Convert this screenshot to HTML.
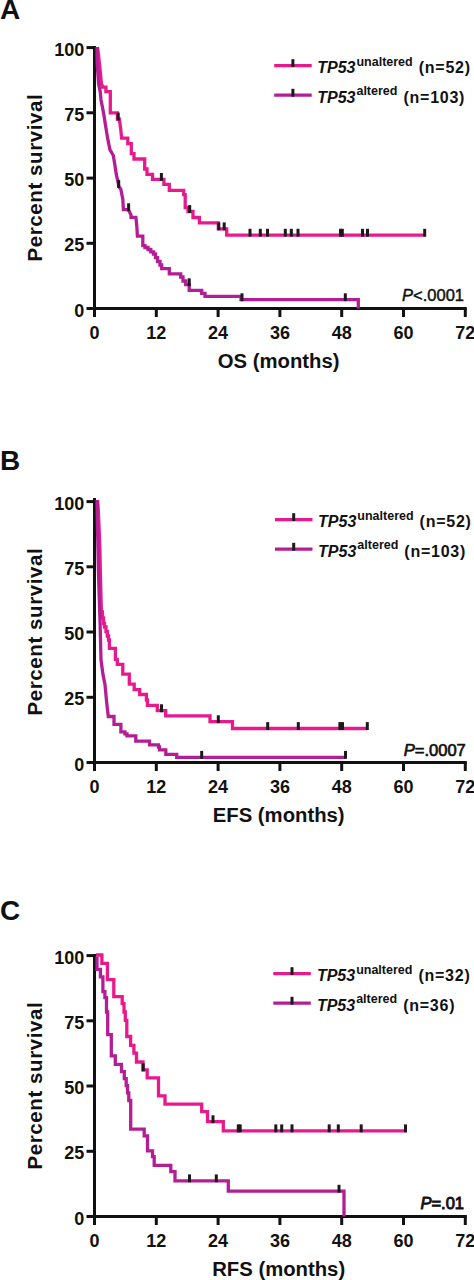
<!DOCTYPE html>
<html><head><meta charset="utf-8"><style>
html,body{margin:0;padding:0;background:#fff;}
svg{display:block;font-family:"Liberation Sans",sans-serif;}
</style></head><body>
<svg width="474" height="1280" viewBox="0 0 474 1280" fill="#111">
<text x="0" y="19.3" font-size="28" font-weight="bold">A</text><path d="M94.5,46.1 V308.5 H466.8" fill="none" stroke="#111" stroke-width="3" stroke-linecap="butt"/><line x1="86.5" y1="308.5" x2="94.5" y2="308.5" stroke="#111" stroke-width="3"/><text x="84.2" y="316.5" font-size="18" font-weight="bold" text-anchor="end">0</text><line x1="86.5" y1="243.3" x2="94.5" y2="243.3" stroke="#111" stroke-width="3"/><text x="84.2" y="251.3" font-size="18" font-weight="bold" text-anchor="end">25</text><line x1="86.5" y1="178.1" x2="94.5" y2="178.1" stroke="#111" stroke-width="3"/><text x="84.2" y="186.1" font-size="18" font-weight="bold" text-anchor="end">50</text><line x1="86.5" y1="112.8" x2="94.5" y2="112.8" stroke="#111" stroke-width="3"/><text x="84.2" y="120.8" font-size="18" font-weight="bold" text-anchor="end">75</text><line x1="86.5" y1="47.6" x2="94.5" y2="47.6" stroke="#111" stroke-width="3"/><text x="84.2" y="55.6" font-size="18" font-weight="bold" text-anchor="end">100</text><line x1="94.5" y1="308.5" x2="94.5" y2="317" stroke="#111" stroke-width="3"/><text x="94.5" y="338.5" font-size="18" font-weight="bold" text-anchor="middle">0</text><line x1="156.3" y1="308.5" x2="156.3" y2="317" stroke="#111" stroke-width="3"/><text x="156.3" y="338.5" font-size="18" font-weight="bold" text-anchor="middle">12</text><line x1="218.1" y1="308.5" x2="218.1" y2="317" stroke="#111" stroke-width="3"/><text x="218.1" y="338.5" font-size="18" font-weight="bold" text-anchor="middle">24</text><line x1="279.9" y1="308.5" x2="279.9" y2="317" stroke="#111" stroke-width="3"/><text x="279.9" y="338.5" font-size="18" font-weight="bold" text-anchor="middle">36</text><line x1="341.7" y1="308.5" x2="341.7" y2="317" stroke="#111" stroke-width="3"/><text x="341.7" y="338.5" font-size="18" font-weight="bold" text-anchor="middle">48</text><line x1="403.5" y1="308.5" x2="403.5" y2="317" stroke="#111" stroke-width="3"/><text x="403.5" y="338.5" font-size="18" font-weight="bold" text-anchor="middle">60</text><line x1="465.3" y1="308.5" x2="465.3" y2="317" stroke="#111" stroke-width="3"/><text x="465.3" y="338.5" font-size="18" font-weight="bold" text-anchor="middle">72</text><text x="278.7" y="367.5" font-size="20.3" font-weight="bold" text-anchor="middle">OS (months)</text><text transform="translate(42.3,177.6) rotate(-90)" font-size="20.5" letter-spacing="0.58" font-weight="bold" text-anchor="middle">Percent survival</text><text x="464" y="300.8" font-size="16.5" text-anchor="end" stroke="#111" stroke-width="0.45"><tspan font-style="italic">P</tspan>&lt;.0001</text><line x1="274.2" y1="65.6" x2="311.7" y2="65.6" stroke="#e8198c" stroke-width="3.3"/><line x1="274.2" y1="95.2" x2="311.7" y2="95.2" stroke="#b41e94" stroke-width="3.3"/><g fill="#1a1a1a"><rect x="291.4" y="59.2" width="3" height="7.9"/><rect x="291.4" y="88.8" width="3" height="7.9"/></g><text x="317.2" y="73.2" font-size="16" font-weight="bold"><tspan font-style="italic">TP53</tspan><tspan font-size="12.5" dy="-7.3" dx="1">unaltered</tspan><tspan dy="7.3" dx="6" letter-spacing="0.75">(n=52)</tspan></text><text x="317.2" y="102.6" font-size="16" font-weight="bold"><tspan font-style="italic">TP53</tspan><tspan font-size="12.5" dy="-7.3" dx="1">altered</tspan><tspan dy="7.3" dx="6" letter-spacing="0.75">(n=103)</tspan></text><text x="0" y="469.7" font-size="28" font-weight="bold">B</text><path d="M94.5,498.1 V762.5 H466.8" fill="none" stroke="#111" stroke-width="3" stroke-linecap="butt"/><line x1="86.5" y1="762.5" x2="94.5" y2="762.5" stroke="#111" stroke-width="3"/><text x="84.2" y="770.5" font-size="18" font-weight="bold" text-anchor="end">0</text><line x1="86.5" y1="697.3" x2="94.5" y2="697.3" stroke="#111" stroke-width="3"/><text x="84.2" y="705.3" font-size="18" font-weight="bold" text-anchor="end">25</text><line x1="86.5" y1="632" x2="94.5" y2="632" stroke="#111" stroke-width="3"/><text x="84.2" y="640" font-size="18" font-weight="bold" text-anchor="end">50</text><line x1="86.5" y1="566.8" x2="94.5" y2="566.8" stroke="#111" stroke-width="3"/><text x="84.2" y="574.8" font-size="18" font-weight="bold" text-anchor="end">75</text><line x1="86.5" y1="501.6" x2="94.5" y2="501.6" stroke="#111" stroke-width="3"/><text x="84.2" y="509.6" font-size="18" font-weight="bold" text-anchor="end">100</text><line x1="94.5" y1="762.5" x2="94.5" y2="771" stroke="#111" stroke-width="3"/><text x="94.5" y="792.5" font-size="18" font-weight="bold" text-anchor="middle">0</text><line x1="156.3" y1="762.5" x2="156.3" y2="771" stroke="#111" stroke-width="3"/><text x="156.3" y="792.5" font-size="18" font-weight="bold" text-anchor="middle">12</text><line x1="218.1" y1="762.5" x2="218.1" y2="771" stroke="#111" stroke-width="3"/><text x="218.1" y="792.5" font-size="18" font-weight="bold" text-anchor="middle">24</text><line x1="279.9" y1="762.5" x2="279.9" y2="771" stroke="#111" stroke-width="3"/><text x="279.9" y="792.5" font-size="18" font-weight="bold" text-anchor="middle">36</text><line x1="341.7" y1="762.5" x2="341.7" y2="771" stroke="#111" stroke-width="3"/><text x="341.7" y="792.5" font-size="18" font-weight="bold" text-anchor="middle">48</text><line x1="403.5" y1="762.5" x2="403.5" y2="771" stroke="#111" stroke-width="3"/><text x="403.5" y="792.5" font-size="18" font-weight="bold" text-anchor="middle">60</text><line x1="465.3" y1="762.5" x2="465.3" y2="771" stroke="#111" stroke-width="3"/><text x="465.3" y="792.5" font-size="18" font-weight="bold" text-anchor="middle">72</text><text x="278.7" y="821.5" font-size="20.3" font-weight="bold" text-anchor="middle">EFS (months)</text><text transform="translate(42.3,631.6) rotate(-90)" font-size="20.5" letter-spacing="0.58" font-weight="bold" text-anchor="middle">Percent survival</text><text x="465.8" y="756" font-size="16.5" text-anchor="end" stroke="#111" stroke-width="0.7"><tspan font-style="italic">P</tspan>=.0007</text><line x1="275" y1="519.6" x2="312.5" y2="519.6" stroke="#e8198c" stroke-width="3.3"/><line x1="275" y1="549.2" x2="312.5" y2="549.2" stroke="#b41e94" stroke-width="3.3"/><g fill="#1a1a1a"><rect x="292.2" y="513.2" width="3" height="7.9"/><rect x="292.2" y="542.8" width="3" height="7.9"/></g><text x="318.1" y="527.2" font-size="16" font-weight="bold"><tspan font-style="italic">TP53</tspan><tspan font-size="12.5" dy="-7.3" dx="1">unaltered</tspan><tspan dy="7.3" dx="6" letter-spacing="0.75">(n=52)</tspan></text><text x="318.1" y="556.6" font-size="16" font-weight="bold"><tspan font-style="italic">TP53</tspan><tspan font-size="12.5" dy="-7.3" dx="1">altered</tspan><tspan dy="7.3" dx="6" letter-spacing="0.75">(n=103)</tspan></text><text x="0" y="920" font-size="28" font-weight="bold">C</text><path d="M94.5,954.1 V1216.5 H466.8" fill="none" stroke="#111" stroke-width="3" stroke-linecap="butt"/><line x1="86.5" y1="1216.5" x2="94.5" y2="1216.5" stroke="#111" stroke-width="3"/><text x="84.2" y="1224.5" font-size="18" font-weight="bold" text-anchor="end">0</text><line x1="86.5" y1="1151.3" x2="94.5" y2="1151.3" stroke="#111" stroke-width="3"/><text x="84.2" y="1159.3" font-size="18" font-weight="bold" text-anchor="end">25</text><line x1="86.5" y1="1086" x2="94.5" y2="1086" stroke="#111" stroke-width="3"/><text x="84.2" y="1094" font-size="18" font-weight="bold" text-anchor="end">50</text><line x1="86.5" y1="1020.8" x2="94.5" y2="1020.8" stroke="#111" stroke-width="3"/><text x="84.2" y="1028.8" font-size="18" font-weight="bold" text-anchor="end">75</text><line x1="86.5" y1="955.6" x2="94.5" y2="955.6" stroke="#111" stroke-width="3"/><text x="84.2" y="963.6" font-size="18" font-weight="bold" text-anchor="end">100</text><line x1="94.5" y1="1216.5" x2="94.5" y2="1225" stroke="#111" stroke-width="3"/><text x="94.5" y="1246.5" font-size="18" font-weight="bold" text-anchor="middle">0</text><line x1="156.3" y1="1216.5" x2="156.3" y2="1225" stroke="#111" stroke-width="3"/><text x="156.3" y="1246.5" font-size="18" font-weight="bold" text-anchor="middle">12</text><line x1="218.1" y1="1216.5" x2="218.1" y2="1225" stroke="#111" stroke-width="3"/><text x="218.1" y="1246.5" font-size="18" font-weight="bold" text-anchor="middle">24</text><line x1="279.9" y1="1216.5" x2="279.9" y2="1225" stroke="#111" stroke-width="3"/><text x="279.9" y="1246.5" font-size="18" font-weight="bold" text-anchor="middle">36</text><line x1="341.7" y1="1216.5" x2="341.7" y2="1225" stroke="#111" stroke-width="3"/><text x="341.7" y="1246.5" font-size="18" font-weight="bold" text-anchor="middle">48</text><line x1="403.5" y1="1216.5" x2="403.5" y2="1225" stroke="#111" stroke-width="3"/><text x="403.5" y="1246.5" font-size="18" font-weight="bold" text-anchor="middle">60</text><line x1="465.3" y1="1216.5" x2="465.3" y2="1225" stroke="#111" stroke-width="3"/><text x="465.3" y="1246.5" font-size="18" font-weight="bold" text-anchor="middle">72</text><text x="278.7" y="1275.5" font-size="20.3" font-weight="bold" text-anchor="middle">RFS (months)</text><text transform="translate(42.3,1085.6) rotate(-90)" font-size="20.5" letter-spacing="0.58" font-weight="bold" text-anchor="middle">Percent survival</text><text x="464" y="1208.8" font-size="16.5" text-anchor="end" stroke="#111" stroke-width="0.9"><tspan font-style="italic">P</tspan>=.01</text><line x1="273.3" y1="973.6" x2="310.8" y2="973.6" stroke="#e8198c" stroke-width="3.3"/><line x1="273.3" y1="1003.2" x2="310.8" y2="1003.2" stroke="#b41e94" stroke-width="3.3"/><g fill="#1a1a1a"><rect x="290.5" y="967.2" width="3" height="7.9"/><rect x="290.5" y="996.8" width="3" height="7.9"/></g><text x="316.9" y="981.2" font-size="16" font-weight="bold"><tspan font-style="italic">TP53</tspan><tspan font-size="12.5" dy="-7.3" dx="1">unaltered</tspan><tspan dy="7.3" dx="6" letter-spacing="0.75">(n=32)</tspan></text><text x="316.9" y="1010.6" font-size="16" font-weight="bold"><tspan font-style="italic">TP53</tspan><tspan font-size="12.5" dy="-7.3" dx="1">altered</tspan><tspan dy="7.3" dx="6" letter-spacing="0.75">(n=36)</tspan></text><polyline points="97.5,47 98.5,55 99.5,64.3 100.5,74 101.4,84 102.4,86 102.4,87.1 105.9,87.1 105.9,91.6 110.3,91.6 110.3,112.9 117.4,112.9 117.4,119 119.3,119 120.8,129.7 121.6,138.2 127.8,138.2 127.8,143.7 131.3,143.7 131.3,153.6 134,153.6 134,159 144.7,159 144.7,169 147,169 147,174.4 152.5,174.4 152.5,179.4 163.9,179.4 163.9,184.3 169.3,184.3 169.3,190.3 183.7,190.3 183.7,194.7 185.2,194.7 185.2,207.5 188,207.5 188,211.5 193,211.5 193,217.5 199.4,217.5 199.4,222.8 218.3,222.8 218.3,228.8 226.7,228.8 226.7,235.2 425,235.2" fill="none" stroke="#e8198c" stroke-width="3.3" stroke-linejoin="miter" stroke-linecap="butt"/><polyline points="97,47 97,55 97.2,64.3 97.9,74 98.6,84 100.2,91.6 101,100 102.5,107.5 103.9,114.9 105.9,127.8 107.9,139.7 109.9,149.6 113.3,155.5 114.8,164.5 116.3,174.4 118.3,183.3 118.7,186.3 120.8,189.2 122.8,199.2 123.4,209.7 128.4,209.7 131,214.9 131,217.4 135.9,217.4 136.8,226 137.4,236.2 142.8,236.2 142.8,245.7 145,245.7 145,247.5 148,247.5 148,249.5 150.8,249.5 150.8,251.8 153.5,251.8 153.5,254 155.5,254 155.5,257.6 157.5,257.6 157.5,261.5 160,261.5 160,265 161.7,265 161.7,268.7 169.3,268.7 169.3,273.8 180.7,273.8 180.7,277 183,277 183,281 185.7,281 185.7,284.7 189.2,284.7 189.2,290.3 201.7,290.3 201.7,293.3 205,293.3 205,296.3 241,296.3 241,299.7 358.3,299.7 358.3,308.5" fill="none" stroke="#b41e94" stroke-width="3.3" stroke-linejoin="miter" stroke-linecap="butt"/><polyline points="97.6,500 98.3,510 99.2,530 99.9,550 100.3,570 100.8,590 101.3,610 101.3,612 102.4,612 102.4,618 103.5,618 103.5,623.5 104.5,623.5 104.5,627 106,627 106,631.5 107.3,631.5 107.3,636 108.5,636 108.5,640 109.4,640 109.4,648.4 115.4,648.4 115.4,659.3 117.3,659.3 117.3,664.3 122.8,664.3 122.8,674.2 129.3,674.2 129.3,684.1 134.2,684.1 134.2,689.6 139.7,689.6 139.7,694.5 146.4,694.5 146.4,699.8 147.4,699.8 147.4,705.3 157.3,705.3 157.3,710.7 165.7,710.7 165.7,715.8 210,715.8 210,721.7 232.5,721.7 232.5,728.5 367.5,728.5" fill="none" stroke="#e8198c" stroke-width="3.3" stroke-linejoin="miter" stroke-linecap="butt"/><polyline points="97,500 97.3,520 97.8,540 98.4,570 99,590 100,620 101,660 103,674.7 105,684.6 106.4,699.5 107.5,710 108.3,716.5 114,716.5 114,724.4 120.9,724.4 120.9,731.8 124.9,731.8 124.9,733.8 127,733.8 127,735.8 135.8,735.8 135.8,741.2 149.5,741.2 149.5,744.9 158.4,744.9 158.4,747 159.5,747 159.5,749.8 165.8,749.8 165.8,754.3 176.7,754.3 176.7,757.3 345.5,757.3" fill="none" stroke="#b41e94" stroke-width="3.3" stroke-linejoin="miter" stroke-linecap="butt"/><polyline points="97,956.5 97,969.3 100.4,969.3 100.4,976.8 102.9,976.8 102.9,991.6 104.9,991.6 104.9,997.6 106.5,997.6 106.5,1012 107.7,1012 107.7,1034.6 111.3,1034.6 111.3,1055.9 115.3,1055.9 115.3,1064.4 121.5,1064.4 121.5,1071.7 124.3,1071.7 124.3,1078.7 126.2,1078.7 126.2,1085.6 127.5,1085.6 127.5,1092.9 128.8,1092.9 128.8,1100.5 130.7,1100.5 130.7,1129.2 144.2,1129.2 144.2,1135.8 147.5,1135.8 147.5,1150.8 152.5,1150.8 152.5,1156.7 154.2,1156.7 154.2,1165.3 170.8,1165.3 170.8,1171.7 175,1171.7 175,1180.8 228.3,1180.8 228.3,1191.2 344,1191.2 344,1216.5" fill="none" stroke="#b41e94" stroke-width="3.3" stroke-linejoin="miter" stroke-linecap="butt"/><polyline points="96,955 101.9,955 101.9,963.4 107.4,963.4 107.4,979.7 113.8,979.7 113.8,996.6 122.2,996.6 122.2,1003.6 124,1003.6 124,1012 125.3,1012 125.3,1020.4 126.8,1020.4 126.8,1036.5 130.6,1036.5 130.6,1045.3 133.9,1045.3 133.9,1053.2 136.5,1053.2 136.5,1062 143,1062 143,1069.8 147.2,1069.8 147.2,1077.8 158.5,1077.8 158.5,1095.8 165,1095.8 165,1104.2 201.7,1104.2 201.7,1111.7 207.5,1111.7 207.5,1121.7 223.3,1121.7 223.3,1130.8 406.5,1130.8" fill="none" stroke="#e8198c" stroke-width="3.3" stroke-linejoin="miter" stroke-linecap="butt"/><g fill="#1a1a1a"><rect x="116.7" y="112.6" width="3" height="7.9"/><rect x="159.9" y="173" width="3" height="7.9"/><rect x="188.2" y="205.1" width="3" height="7.9"/><rect x="217.3" y="222.4" width="3" height="7.9"/><rect x="222.7" y="222.4" width="3" height="7.9"/><rect x="248.5" y="228.8" width="3" height="7.9"/><rect x="258.8" y="228.8" width="3" height="7.9"/><rect x="266" y="228.8" width="3" height="7.9"/><rect x="283.8" y="228.8" width="3" height="7.9"/><rect x="289.8" y="228.8" width="3" height="7.9"/><rect x="296.5" y="228.8" width="3" height="7.9"/><rect x="339" y="228.8" width="3" height="7.9"/><rect x="340.8" y="228.8" width="3" height="7.9"/><rect x="361" y="228.8" width="3" height="7.9"/><rect x="366" y="228.8" width="3" height="7.9"/><rect x="423.2" y="228.8" width="3" height="7.9"/><rect x="117.2" y="179.9" width="3" height="7.9"/><rect x="127.1" y="203.3" width="3" height="7.9"/><rect x="187.7" y="278.3" width="3" height="7.9"/><rect x="240.5" y="293.3" width="3" height="7.9"/><rect x="343.8" y="293.3" width="3" height="7.9"/><rect x="160" y="704.3" width="3" height="7.9"/><rect x="216.8" y="715.3" width="3" height="7.9"/><rect x="266.2" y="722.1" width="3" height="7.9"/><rect x="296.8" y="722.1" width="3" height="7.9"/><rect x="338.4" y="722.1" width="3" height="7.9"/><rect x="341" y="722.1" width="3" height="7.9"/><rect x="365.8" y="722.1" width="3" height="7.9"/><rect x="200.2" y="750.9" width="3" height="7.9"/><rect x="344" y="750.9" width="3" height="7.9"/><rect x="141.7" y="1063.4" width="3" height="7.9"/><rect x="211.5" y="1115.3" width="3" height="7.9"/><rect x="236.8" y="1124.4" width="3" height="7.9"/><rect x="238.7" y="1124.4" width="3" height="7.9"/><rect x="274.3" y="1124.4" width="3" height="7.9"/><rect x="280.2" y="1124.4" width="3" height="7.9"/><rect x="290.5" y="1124.4" width="3" height="7.9"/><rect x="327.7" y="1124.4" width="3" height="7.9"/><rect x="336.8" y="1124.4" width="3" height="7.9"/><rect x="359.7" y="1124.4" width="3" height="7.9"/><rect x="404" y="1124.4" width="3" height="7.9"/><rect x="188" y="1174.4" width="3" height="7.9"/><rect x="214.8" y="1174.4" width="3" height="7.9"/><rect x="337.5" y="1184.8" width="3" height="7.9"/></g>
</svg>
</body></html>
